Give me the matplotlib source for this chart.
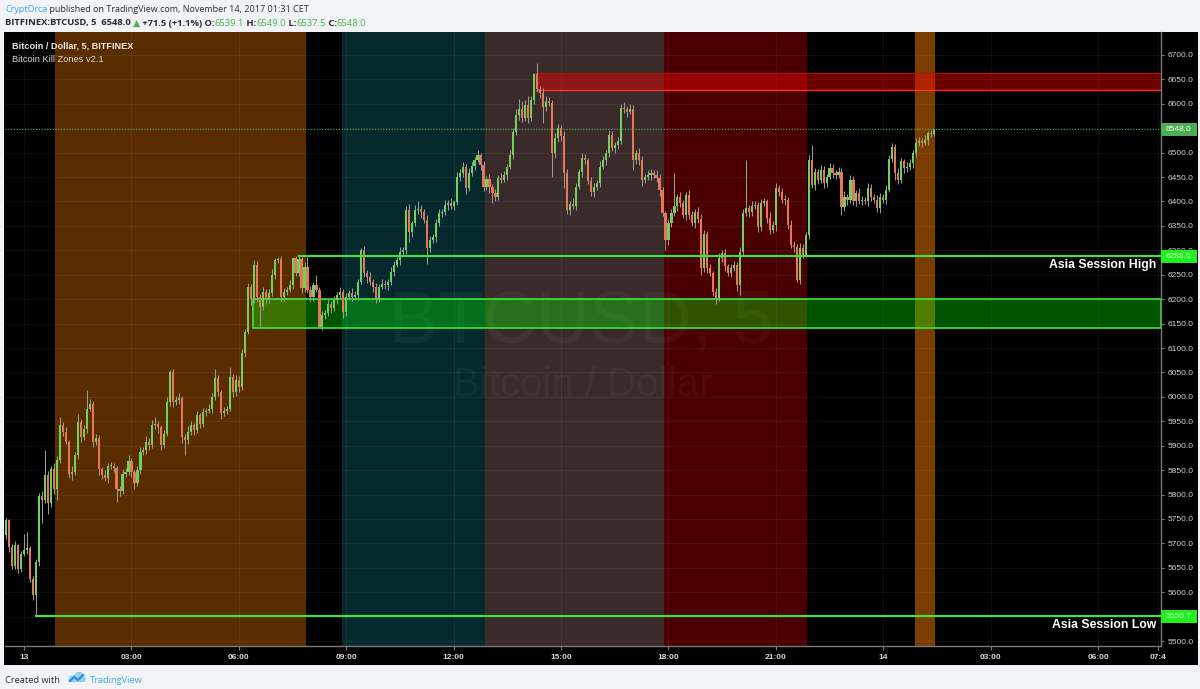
import matplotlib
matplotlib.use("Agg")
import matplotlib.pyplot as plt
import matplotlib.transforms as mtransforms
from matplotlib.patches import Rectangle, Polygon
import numpy as np

W, H = 1200, 689

# ---------------- data (5-minute bars, index 0 = 13 Nov 00:00) ----------------
first_index = -6
first_open = 5717

close_a = [5747, 5693, 5653, 5696, 5648, 5679,
           5687, 5691, 5628, 5594, 5662, 5797, 5788, 5840, 5782, 5853,
           5812, 5870, 5942, 5928, 5908, 5843, 5846, 5880, 5949, 5918,
           5935, 5976, 5986, 5908, 5915, 5853, 5840, 5833, 5858, 5859,
           5855, 5812, 5808, 5843, 5846, 5869, 5846, 5824, 5850, 5887,
           5891, 5908, 5902, 5942, 5945, 5938, 5901, 5925, 5990, 6051,
           5990, 5993, 5997, 5918, 5912, 5928, 5942, 5932, 5962, 5945,
           5969, 5972, 5976, 6000, 6038, 6010, 5966, 5972, 5976, 6041,
           6010, 6035]
close_b = [6020, 6089, 6133, 6225, 6201, 6270, 6205, 6184,
           6215, 6200, 6212, 6249, 6280, 6283, 6205, 6215, 6219, 6229,
           6284, 6253, 6283, 6222, 6266, 6219, 6205, 6229, 6219, 6144,
           6167, 6171, 6191, 6181, 6198, 6208, 6215, 6174, 6205, 6212,
           6205, 6208, 6236, 6301, 6253, 6246, 6236, 6225, 6201, 6225,
           6232, 6229, 6236, 6256, 6270, 6280, 6297, 6300, 6383, 6338,
           6355, 6383, 6385, 6379, 6362, 6304, 6321, 6328, 6355, 6376,
           6378, 6393, 6396, 6390, 6398, 6451, 6458, 6471, 6427, 6458]
close_c = [6472, 6485, 6495, 6475, 6430, 6447, 6430, 6417, 6410, 6448,
           6445, 6454, 6471, 6495, 6543, 6577, 6590, 6570, 6598, 6570,
           6608, 6660, 6630, 6622, 6594, 6605, 6601, 6499, 6530, 6550,
           6535, 6458, 6383, 6395, 6390, 6430, 6461, 6489, 6485, 6441,
           6420, 6430, 6437, 6471, 6485, 6499, 6536, 6509, 6516, 6523,
           6591, 6590, 6584, 6590, 6485, 6499, 6485, 6444, 6451, 6454,
           6458, 6454, 6448, 6424, 6376, 6321, 6355, 6376, 6390, 6410,
           6396, 6372, 6413, 6372, 6355, 6379, 6365]
close_d = [6263, 6333, 6263, 6253, 6215, 6202, 6284, 6294, 6267, 6253,
           6263, 6270, 6229, 6297, 6376, 6386, 6379, 6390, 6393, 6348,
           6396, 6400, 6366, 6342, 6352, 6427, 6420, 6403, 6403, 6352,
           6311, 6307, 6239, 6304, 6290, 6331, 6485, 6434, 6461, 6444,
           6465, 6437, 6451, 6468, 6458, 6454, 6461, 6389, 6410, 6403,
           6444, 6400, 6417, 6400, 6403, 6400, 6427, 6410, 6403, 6386,
           6410, 6403, 6424, 6488, 6512, 6458, 6444, 6482, 6468, 6471,
           6478, 6499, 6519, 6524, 6520, 6526, 6540, 6539, 6548]

wick_up = [6, 4, 5, 8, 3, 6,
           33, 33, 4, 5, 6, 6, 10, 51, 8, 5,
           12, 8, 17, 6, 10, 4, 12, 8, 15, 6,
           8, 38, 10, 5, 8, 6, 4, 10, 6, 8,
           5, 4, 6, 10, 8, 12, 5, 4, 8, 10,
           6, 12, 8, 10, 14, 6, 4, 8, 10, 5,
           6, 8, 10, 4, 6, 12, 8, 5, 10, 6,
           8, 6, 10, 8, 20, 6, 4, 8, 6, 20,
           6, 10,
           8, 10, 6, 8, 6, 10, 8, 6,
           10, 6, 8, 12, 4, 3, 6, 8, 6, 10,
           2, 4, 5, 4, 10, 20, 8, 6, 20, 6,
           8, 6, 10, 5, 8, 6, 10, 5, 8, 6,
           10, 8, 6, 3, 8, 6, 10, 5, 8, 6,
           10, 8, 6, 10, 8, 6, 10, 6, 8, 12,
           6, 10, 15, 8, 6, 10, 8, 6, 10, 8,
           6, 10, 8, 12, 6, 10, 8, 9, 6, 10,
           8, 6, 10, 5, 8, 6, 10, 5, 8, 6,
           10, 8, 6, 10, 8, 12, 20, 15, 10, 18,
           8, 4, 23, 6, 10, 12, 8, 6, 10, 8,
           6, 10, 8, 6, 12, 8, 6, 10, 8, 5,
           10, 8, 6, 12, 8, 6, 10, 8, 6, 10,
           8, 12, 6, 10, 8, 6, 10, 8, 5, 10,
           8, 6, 10, 8, 6, 5, 10, 8, 68, 6,
           10, 8, 6, 10, 8, 6, 10,
           10, 8, 6, 10, 5, 8, 10, 6, 8, 5,
           10, 8, 6, 10, 8, 99, 6, 10, 8, 6,
           10, 8, 6, 12, 8, 10, 6, 8, 10, 6,
           10, 8, 6, 12, 8, 6, 10, 31, 8, 6,
           10, 8, 6, 10, 8, 6, 10, 8, 12, 6,
           10, 8, 6, 10, 8, 6, 10, 8, 6, 10,
           8, 6, 10, 8, 8, 6, 10, 8, 6, 10,
           8, 6, 10, 8, 6, 10, 4, 6, 1]
wick_dn = [8, 10, 6, 5, 8, 6,
           5, 8, 6, 10, 43, 8, 47, 6, 21, 8,
           10, 24, 6, 8, 5, 10, 14, 6, 8, 10,
           6, 8, 5, 10, 6, 12, 8, 6, 10, 5,
           8, 27, 10, 6, 8, 5, 10, 12, 6, 8,
           5, 8, 10, 6, 8, 12, 10, 6, 5, 8,
           10, 6, 8, 12, 32, 8, 6, 10, 5, 8,
           6, 8, 5, 10, 6, 8, 12, 6, 8, 5,
           10, 8,
           10, 6, 8, 5, 12, 8, 10, 44,
           6, 10, 8, 5, 8, 6, 10, 8, 6, 5,
           8, 6, 5, 10, 8, 6, 10, 8, 5, 4,
           7, 8, 6, 10, 5, 8, 6, 12, 8, 6,
           8, 6, 10, 5, 8, 12, 6, 10, 8, 6,
           5, 8, 10, 6, 8, 5, 10, 6, 8, 20,
           10, 6, 8, 12, 6, 31, 8, 6, 10, 5,
           8, 6, 10, 5, 8, 6, 10, 8, 12, 6,
           6, 8, 5, 10, 8, 6, 12, 21, 8, 6,
           8, 6, 10, 5, 8, 6, 10, 8, 6, 10,
           6, 8, 5, 10, 34, 8, 6, 48, 10, 8,
           12, 30, 8, 10, 6, 8, 5, 10, 8, 6,
           8, 10, 6, 8, 5, 10, 8, 6, 10, 8,
           6, 8, 10, 5, 20, 8, 10, 12, 6, 8,
           10, 6, 8, 12, 6, 20, 10, 8, 6, 10,
           8, 6, 10, 8, 6, 10, 8,
           13, 8, 10, 6, 8, 11, 6, 8, 10, 5,
           8, 6, 12, 21, 8, 6, 10, 8, 5, 10,
           8, 6, 10, 8, 6, 12, 8, 6, 10, 8,
           6, 10, 3, 8, 6, 3, 8, 6, 10, 8,
           6, 10, 8, 5, 10, 8, 6, 17, 8, 10,
           6, 8, 10, 5, 8, 6, 10, 8, 6, 8,
           10, 6, 8, 5, 8, 14, 8, 6, 10, 8,
           6, 10, 8, 6, 8, 5, 10, 6, 5]

time_tick_pos = [0, 36, 72, 108, 144, 180, 216, 252, 288, 324, 360, 380]
time_tick_lab = ['13', '03:00', '06:00', '09:00', '12:00', '15:00',
                 '18:00', '21:00', '14', '03:00', '06:00', '07:4']
price_ticks = list(range(5500, 6701, 50))

zone_start = [10.5, 106.5, 154.5, 214.5, 298.5]
zone_end = [94.5, 154.5, 214.5, 262.5, 305.5]
zone_color = ['#5a2d00', '#05292c', '#3a2a2a', '#4a0000', '#7a3d00']

asia_high, asia_high_idx = 6288.0, 92
asia_low, asia_low_idx = 5550.7, 4
green_box = (6140, 6200, 76.6)
red_box = (6629, 6663, 171.6)
last_price = 6548.0

# ---------------- derived OHLC ----------------
closes = np.array(close_a + close_b + close_c + close_d, float)
opens = np.concatenate([[first_open], closes[:-1]])
wu = np.array(wick_up, float)
wd = np.array(wick_dn, float)
assert len(wu) == len(closes) == len(wd)
highs = np.maximum(opens, closes) + wu
lows = np.minimum(opens, closes) - wd
xs = np.arange(first_index, first_index + len(closes))
up = closes >= opens

# ---------------- figure ----------------
fig = plt.figure(figsize=(W / 100, H / 100), dpi=100, facecolor='#f1f3f6')
fig.add_artist(Rectangle((4 / W, 1 - 665 / H), (1198 - 4) / W, (665 - 32) / H,
                         transform=fig.transFigure, facecolor='black',
                         edgecolor='none', zorder=0))
ax = fig.add_axes([5 / W, 1 - 646 / H, (1161 - 5) / W, (646 - 32) / H])
ax.set_facecolor('black')
XMIN, XMAX = -6.4, 381.1
ax.set_xlim(XMIN, XMAX)
ax.set_ylim(5490, 6747)

for s, e, c in zip(zone_start, zone_end, zone_color):
    ax.axvspan(s, e, color=c, lw=0, zorder=0.2)

ax.set_axisbelow(True)
ax.grid(True, color='white', alpha=0.06, lw=0.7)

# watermark
ax.text((581 - 5) / 1156, (646 - 342) / 614, 'BTCUSD, 5', transform=ax.transAxes,
        ha='center', va='baseline', fontsize=53, family='Liberation Sans',
        color='white', alpha=0.045, zorder=0.6)
ax.text((583 - 5) / 1156, (646 - 396) / 614, 'Bitcoin / Dollar', transform=ax.transAxes,
        ha='center', va='baseline', fontsize=29, family='Liberation Sans',
        color='white', alpha=0.045, zorder=0.6)

# boxes
g0, g1, gx = green_box
ax.add_patch(Rectangle((gx, g0), XMAX - gx, g1 - g0, facecolor=(0, 1, 0, 0.33),
                       edgecolor='#3ae83a', lw=1.2, zorder=1))
r0, r1, rx = red_box
ax.add_patch(Rectangle((rx, r0), XMAX - rx, r1 - r0, facecolor=(1, 0, 0, 0.42),
                       edgecolor='none', zorder=1))
ax.plot([rx, XMAX], [r0, r0], color='#ff3030', lw=1.0, zorder=1.1)
ax.plot([rx, XMAX], [r1, r1], color='#b01010', lw=0.8, zorder=1.1)

# candles
ax.vlines(xs, lows, highs, color='#9a9a9a', lw=0.75, zorder=3)
body_h = np.maximum(np.abs(closes - opens), 1.8)
body_b = np.minimum(opens, closes)
ax.bar(xs, body_h, bottom=body_b, width=0.72,
       color=np.where(up, '#6fd25c', '#e8775a'), lw=0, zorder=4)

# session lines
ax.plot([asia_high_idx, XMAX], [asia_high, asia_high], color='#3ae83a', lw=1.5, zorder=5)
ax.plot([asia_low_idx, XMAX], [asia_low, asia_low], color='#3ae83a', lw=1.5, zorder=5)
ax.axhline(last_price, color='#4caf50', lw=0.8, ls=(0, (1, 1.5)), zorder=5)

blend = mtransforms.blended_transform_factory(ax.transAxes, ax.transData)
for v, s in [(asia_high, 'Asia Session High'), (asia_low, 'Asia Session Low')]:
    tr = mtransforms.offset_copy(blend, fig=fig, x=-5, y=-9, units='dots')
    ax.text(1.0, v, s, transform=tr, ha='right', va='center', fontsize=8.8,
            fontweight='bold', family='Liberation Sans', color='white', zorder=6)

# axes styling
for sp in ['top', 'left']:
    ax.spines[sp].set_visible(False)
for sp in ['right', 'bottom']:
    ax.spines[sp].set_color('#7a7a7a')
    ax.spines[sp].set_linewidth(1.0)
ax.yaxis.tick_right()
ax.set_yticks(price_ticks)
ax.set_yticklabels([f'{v:.1f}' for v in price_ticks])
ax.set_xticks(time_tick_pos)
ax.set_xticklabels(time_tick_lab)
ax.tick_params(axis='y', colors='#7a7a7a', labelcolor='#d0d0d0', labelsize=6,
               length=2.5, pad=2.5)
ax.tick_params(axis='x', colors='#7a7a7a', labelcolor='#d8d8d8', labelsize=6,
               length=3, pad=2.5)
for lab in ax.get_xticklabels() + ax.get_yticklabels():
    lab.set_family('Liberation Sans')
for lab in ax.get_xticklabels():
    lab.set_fontweight('bold')

# price tags on the right scale
def price_tag(v, text, bg, fg):
    ypx = ax.transData.transform((0, v))[1]
    fig.add_artist(Rectangle((1161 / W, (ypx - 6.5) / H), 36 / W, 13 / H,
                             transform=fig.transFigure, facecolor=bg,
                             edgecolor='none', zorder=20))
    fig.text(1166 / W, ypx / H, text, ha='left', va='center', fontsize=6,
             family='Liberation Sans', color=fg, zorder=21)

price_tag(last_price, f'{last_price:.1f}', '#4caf50', 'white')
price_tag(asia_high, f'{asia_high:.1f}', '#22ee22', '#b8ffb8')
price_tag(asia_low, f'{asia_low:.1f}', '#22ee22', '#b8ffb8')

# ---------------- texts ----------------
renderer = fig.canvas.get_renderer()

def seq(x, y, parts, target_w, family, base=10.0):
    total = 0.0
    for s, col, wt in parts:
        t = fig.text(0, 0, s, fontsize=base, family=family, fontweight=wt)
        total += t.get_window_extent(renderer).width
        t.remove()
    size = base * target_w / total
    cx = x
    for s, col, wt in parts:
        t = fig.text(cx / W, 1 - y / H, s, fontsize=size, family=family,
                     fontweight=wt, color=col, ha='left', va='baseline', zorder=30)
        cx += t.get_window_extent(renderer).width

hdr = ['Open Sans', 'DejaVu Sans']
dark = '#2b2b2b'
grn = '#4caf50'
seq(5, 12, [('CryptOrca', '#3ca9e0', 'normal'),
            (' published on TradingView.com, November 14, 2017 01:31 CET', dark, 'normal')],
    303, hdr)
seq(5, 25.5, [('BITFINEX:BTCUSD, 5  6548.0 ', dark, 'bold'), ('\u25B2', grn, 'normal'),
              (' +71.5 (+1.1%) O:', dark, 'bold'), ('6539.1', grn, 'normal'),
              (' H:', dark, 'bold'), ('6549.0', grn, 'normal'),
              (' L:', dark, 'bold'), ('6537.5', grn, 'normal'),
              (' C:', dark, 'bold'), ('6548.0', grn, 'normal')],
    363, hdr)

seq(12, 49, [('Bitcoin / Dollar, 5, BITFINEX', '#e8e8e8', 'bold')], 121, ['Liberation Sans'])
seq(12, 62.5, [('Bitcoin Kill Zones v2.1', '#d8d8d8', 'normal')], 91, ['Liberation Sans'])

seq(5, 683, [('Created with', dark, 'normal')], 55, hdr)
seq(90, 683, [('TradingView', '#3ca9e0', 'normal')], 53, hdr)

# small TradingView cloud logo (display pixels)
idt = mtransforms.IdentityTransform()
cloud = [(68, 680), (70, 676), (74, 675), (77, 672), (81, 672), (84, 675),
         (86, 679), (85, 682), (69, 682)]
fig.add_artist(Polygon([(x, H - y) for x, y in cloud], closed=True,
                       facecolor='#8fd0f0', edgecolor='none', transform=idt, zorder=30))
zig = [(70, 681), (74, 677), (78, 680), (83, 675)]
fig.add_artist(matplotlib.lines.Line2D([p[0] for p in zig], [H - p[1] for p in zig],
                                       color='#2a8fd0', lw=1.5, transform=idt, zorder=31))

fig.savefig('out.png', dpi=100, facecolor=fig.get_facecolor())
